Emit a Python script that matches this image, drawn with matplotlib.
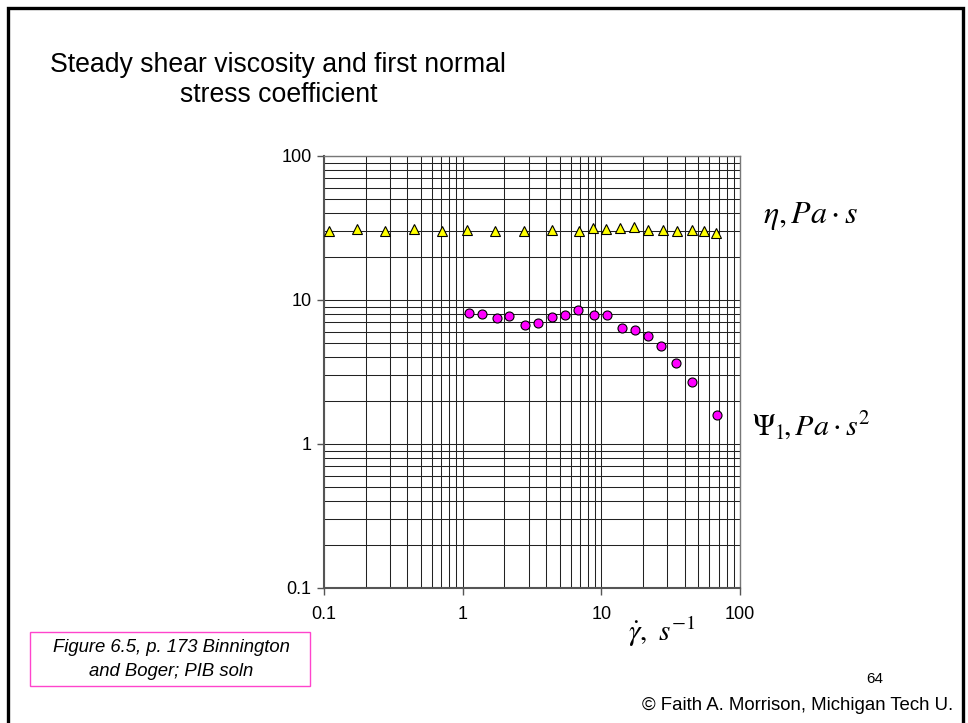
import matplotlib
matplotlib.use("Agg")
import matplotlib.pyplot as plt
from matplotlib.ticker import LogLocator, NullFormatter, FixedLocator, FixedFormatter
from matplotlib.patches import Rectangle
from matplotlib.lines import Line2D

plt.rcParams['font.family'] = ['Liberation Sans', 'DejaVu Sans']
plt.rcParams['mathtext.fontset'] = 'stix'

# Shear rate (1/s) and steady shear viscosity eta (Pa s)
eta_rate = [0.108, 0.174, 0.277, 0.446, 0.709, 1.08, 1.72, 2.77, 4.41, 6.86,
            8.74, 10.8, 13.7, 17.3, 21.7, 27.8, 35.1, 45.0, 54.7, 67.4]
eta = [30.3, 31.1, 30.3, 31.3, 30.3, 30.8, 30.3, 30.3, 30.5, 30.3,
       31.4, 31.3, 31.6, 32.0, 30.8, 30.8, 30.1, 30.5, 30.3, 29.1]

# Shear rate (1/s) and first normal stress coefficient Psi1 (Pa s^2)
psi_rate = [1.11, 1.37, 1.76, 2.17, 2.83, 3.50, 4.44, 5.48, 6.76, 8.83,
            10.96, 14.06, 17.4, 21.6, 27.0, 34.8, 44.7, 68.5]
psi1 = [8.09, 8.00, 7.55, 7.75, 6.68, 6.87, 7.67, 7.87, 8.53, 7.87,
        7.87, 6.41, 6.15, 5.61, 4.76, 3.65, 2.69, 1.58]

x_ticks = [0.1, 1, 10, 100]
x_tick_labels = ["0.1", "1", "10", "100"]
y_ticks = [0.1, 1, 10, 100]
y_tick_labels = ["0.1", "1", "10", "100"]

W, H = 968, 723
fig = plt.figure(figsize=(W / 100, H / 100), dpi=100)
fig.patch.set_facecolor('white')

# Slide frame (left, top, right edges)
frame = Line2D([7.5 / W, 7.5 / W, 963 / W, 963 / W],
               [0, 1 - 8 / H, 1 - 8 / H, 0],
               transform=fig.transFigure, color='black', lw=2.4,
               solid_joinstyle='miter')
fig.add_artist(frame)

ax_l, ax_r, ax_t, ax_b = 324, 740, 156, 588
ax = fig.add_axes([ax_l / W, 1 - ax_b / H, (ax_r - ax_l) / W, (ax_b - ax_t) / H])
ax.set_xscale('log')
ax.set_yscale('log')
ax.set_xlim(0.1, 100)
ax.set_ylim(0.1, 100)

minor = LogLocator(base=10, subs=[2, 3, 4, 5, 6, 7, 8, 9])
ax.xaxis.set_major_locator(FixedLocator(x_ticks))
ax.xaxis.set_major_formatter(FixedFormatter(x_tick_labels))
ax.yaxis.set_major_locator(FixedLocator(y_ticks))
ax.yaxis.set_major_formatter(FixedFormatter(y_tick_labels))
ax.xaxis.set_minor_locator(minor)
ax.yaxis.set_minor_locator(minor)
ax.xaxis.set_minor_formatter(NullFormatter())
ax.yaxis.set_minor_formatter(NullFormatter())

ax.grid(True, which='both', color='#222222', lw=0.75)
ax.set_axisbelow(True)
ax.tick_params(which='major', direction='out', length=5, width=1,
               color='#555555', labelsize=13, pad=8)
ax.tick_params(which='minor', length=0)
ax.tick_params(axis='y', pad=4)
for side in ['top', 'right']:
    ax.spines[side].set_color('#777777')
    ax.spines[side].set_linewidth(1.0)
for side in ['left', 'bottom']:
    ax.spines[side].set_color('#555555')
    ax.spines[side].set_linewidth(1.5)

ax.plot(eta_rate, eta, linestyle='none', marker='^', markersize=6.5,
        markerfacecolor='#FFFF00', markeredgecolor='black', markeredgewidth=0.8,
        zorder=3, clip_on=False)
ax.plot(psi_rate, psi1, linestyle='none', marker='o', markersize=6.5,
        markerfacecolor='#FF00FF', markeredgecolor='black', markeredgewidth=0.8,
        zorder=3, clip_on=False)

# Title, two lines
fig.text(50 / W, 1 - 72 / H, "Steady shear viscosity and first normal",
         ha='left', va='baseline', fontsize=19.2)
fig.text(279 / W, 1 - 102 / H, "stress coefficient",
         ha='center', va='baseline', fontsize=19.2)

# Series labels
fig.text(763 / W, 1 - 223 / H, r"$\eta, Pa\cdot s$", ha='left', va='baseline',
         fontsize=23)
fig.text(752 / W, 1 - 435 / H, r"$\Psi_1\!, Pa\cdot s^2$", ha='left',
         va='baseline', fontsize=21.6)

# Axis label
fig.text(628 / W, 1 - 641 / H, r"$\dot{\gamma},\ s^{-1}$", ha='left',
         va='baseline', fontsize=21)

# Source note box
box = Rectangle((30 / W, 1 - 686 / H), 280 / W, 54 / H, transform=fig.transFigure,
                facecolor='none', edgecolor='#FF44CC', lw=1.0)
fig.add_artist(box)
fig.text(171 / W, 1 - 648 / H, "Figure 6.5, p. 173 Binnington",
         ha='center', va='center', fontsize=13.3, style='italic')
fig.text(171 / W, 1 - 672 / H, "and Boger; PIB soln",
         ha='center', va='center', fontsize=13.3, style='italic')

fig.text(875 / W, 1 - 679 / H, "64", ha='center', va='center', fontsize=11)
fig.text(953 / W, 1 - 705 / H, "\u00a9 Faith A. Morrison, Michigan Tech U.",
         ha='right', va='center', fontsize=13.4)

fig.savefig("out.png", dpi=100)
